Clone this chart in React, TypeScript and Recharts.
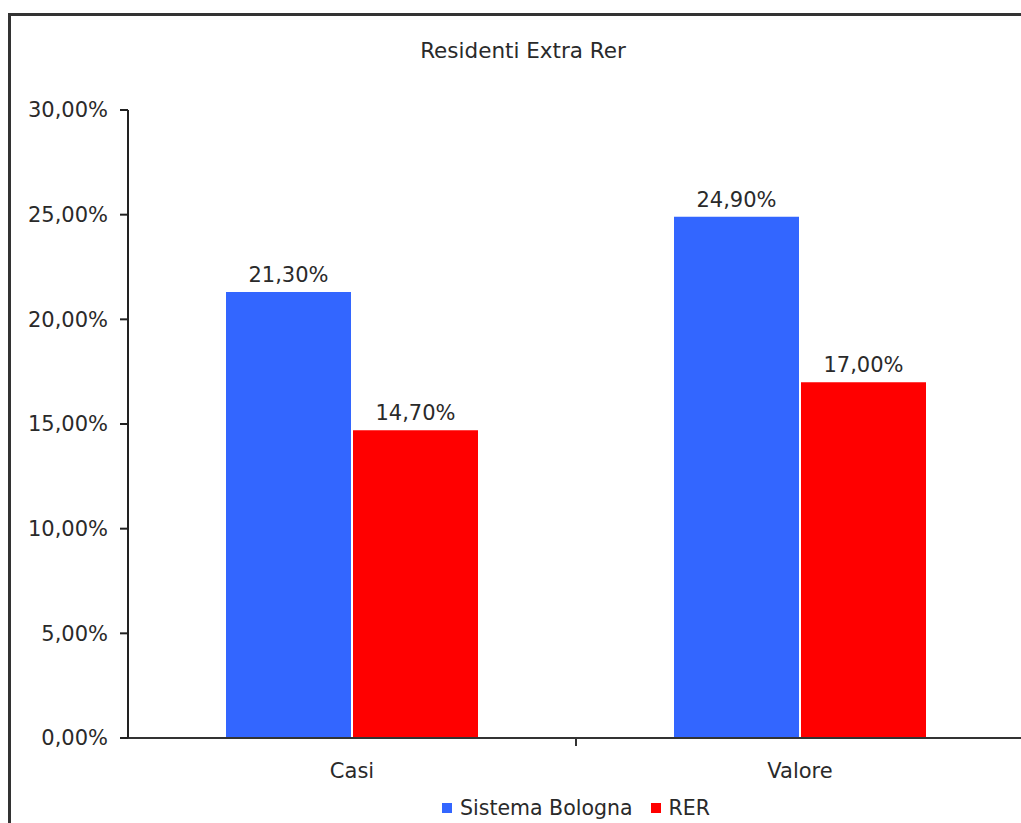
import { BarChart, Bar, XAxis, YAxis, Legend, LabelList } from 'recharts'

const categories = ['Casi', 'Valore']
const sistemaBologna = [21.3, 24.9]
const rer = [14.7, 17.0]
const yTicks = [0, 5, 10, 15, 20, 25, 30]

const FONT = '"DejaVu Sans", Verdana, sans-serif'
const BLUE = '#3366ff'
const RED = '#ff0000'
const INK = '#2a2a2a'

const data = categories.map((c, i) => ({ name: c, 'Sistema Bologna': sistemaBologna[i], RER: rer[i] }))

const pct = (v: any) => Number(v).toFixed(2).replace('.', ',') + '%'

// category label at the centre, tick mark on the band boundary
const XTick = ({ x, y, payload }: any) => {
  const off = payload?.offset ?? 0
  return (
    <g>
      <line x1={x + off} x2={x + off} y1={y - 8} y2={y} stroke="#333" strokeWidth={2} />
      <text x={x} y={y + 32} textAnchor="middle" fill={INK} fontSize={21} fontFamily={FONT}>
        {payload.value}
      </text>
    </g>
  )
}

const LegendBox = () => (
  <div style={{ display: 'flex', justifyContent: 'center', alignItems: 'center', fontFamily: FONT, fontSize: 20.5, color: INK, lineHeight: '20px', marginTop: -5 }}>
    {[['Sistema Bologna', BLUE], ['RER', RED]].map(([label, color], i) => (
      <span key={label} style={{ display: 'inline-flex', alignItems: 'center', marginLeft: i ? 18 : 0 }}>
        <span style={{ width: 10, height: 10, background: color, display: 'inline-block', marginRight: 8 }} />
        {label}
      </span>
    ))}
  </div>
)

export default function App() {
  return (
    <div style={{ position: 'absolute', left: 0, top: 0, width: 1021, height: 823, overflow: 'hidden', background: '#fff' }}>
      <div style={{ position: 'absolute', left: 8, top: 13, width: 1100, height: 900, borderLeft: '3px solid #333', borderTop: '3px solid #333' }} />
      <div style={{ position: 'absolute', left: 0, top: 38, width: 1046, textAlign: 'center', fontFamily: FONT, fontSize: 21.5, color: INK }}>
        Residenti Extra Rer
      </div>
      <div style={{ position: 'absolute', left: 0, top: 0 }}>
        <BarChart width={1030} height={823} data={data} margin={{ top: 110, right: 6, left: 8, bottom: 0 }}
          barCategoryGap={98} barGap={2}>
          <XAxis dataKey="name" height={65} axisLine={{ stroke: '#333', strokeWidth: 2 }} tickLine={false} tick={<XTick />} interval={0} />
          <YAxis domain={[0, 30]} ticks={yTicks} width={120} tickSize={8} tickMargin={12}
            tickFormatter={pct} axisLine={{ stroke: '#222', strokeWidth: 2 }} tickLine={{ stroke: '#222', strokeWidth: 2 }}
            tick={{ fill: INK, fontSize: 21, fontFamily: FONT }} />
          <Legend verticalAlign="bottom" height={20} content={<LegendBox />} wrapperStyle={{ left: 128, width: 896 }} />
          <Bar dataKey="Sistema Bologna" fill={BLUE} isAnimationActive={false}>
            <LabelList dataKey="Sistema Bologna" position="top" offset={10} formatter={pct} fill={INK} fontSize={21} fontFamily={FONT} />
          </Bar>
          <Bar dataKey="RER" fill={RED} isAnimationActive={false}>
            <LabelList dataKey="RER" position="top" offset={10} formatter={pct} fill={INK} fontSize={21} fontFamily={FONT} />
          </Bar>
        </BarChart>
      </div>
    </div>
  )
}
